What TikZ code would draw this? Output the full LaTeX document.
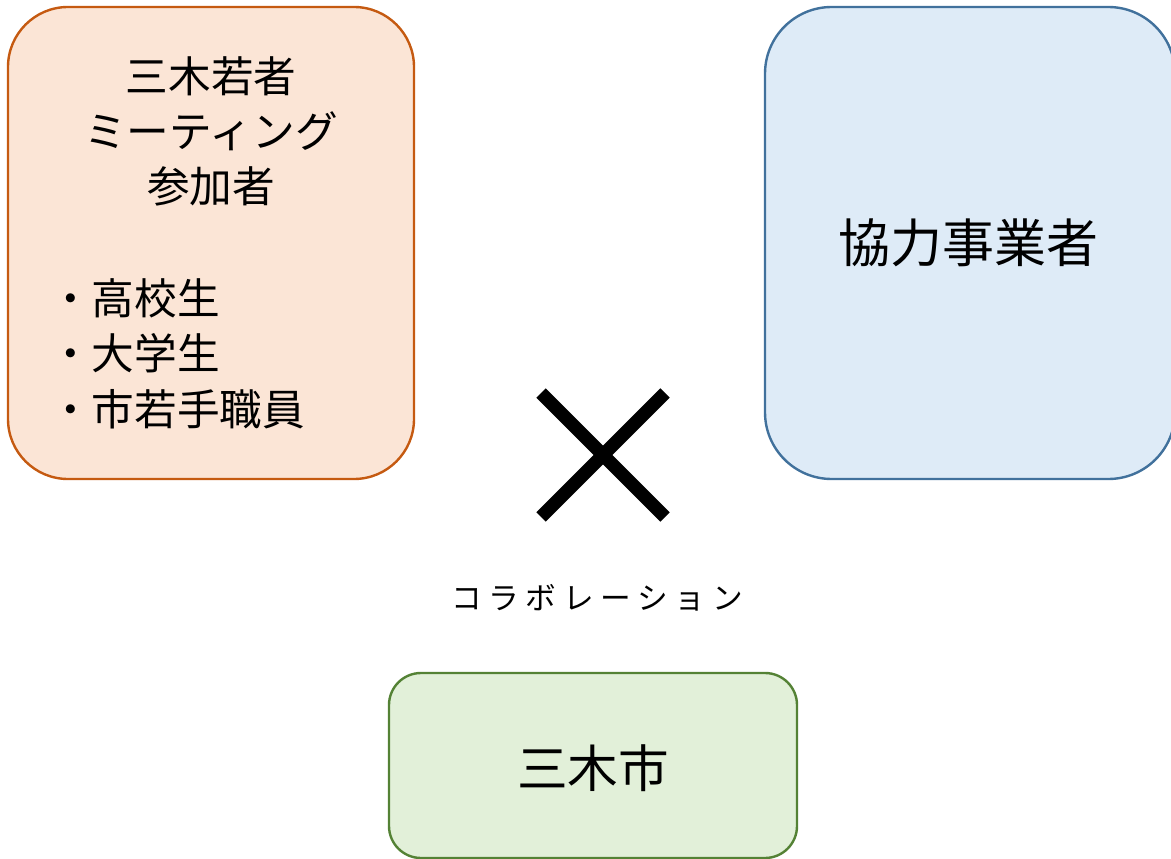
\documentclass[tikz,border=0pt]{standalone}
\usepackage{fontspec}
\setmainfont{Noto Sans CJK JP}
\definecolor{orangeline}{HTML}{C55A11}
\definecolor{orangefill}{HTML}{FBE5D6}
\definecolor{blueline}{HTML}{41719C}
\definecolor{bluefill}{HTML}{DEEBF7}
\definecolor{greenline}{HTML}{548235}
\definecolor{greenfill}{HTML}{E2F0D9}
\tikzset{
  groupbox/.style={draw,line width=1.8pt,rectangle,inner sep=0pt},
  label text/.style={inner sep=0pt,font=\fontsize{32}{38}\selectfont}
}

\begin{document}
\begin{tikzpicture}[x=0.75pt,y=-0.75pt]
    \useasboundingbox (0,0) rectangle (1171,859);
    % the three groups
    \node[groupbox,draw=orangeline,fill=orangefill,rounded corners=45pt,
      minimum width=304.5pt,minimum height=354pt] (wakamono) at (211,243) {};
    \node[groupbox,draw=blueline,fill=bluefill,rounded corners=50pt,
      minimum width=307.5pt,minimum height=354pt] (jigyosha) at (970,243) {};
    \node[groupbox,draw=greenline,fill=greenfill,rounded corners=24pt,
      minimum width=306pt,minimum height=138.75pt] (shi) at (593,765.5) {};
    % texts
    \node[label text] (title1) at (211,76) {三木若者};
    \node[label text] (title2) at (211,131) {ミーティング};
    \node[label text] (title3) at (211,186) {参加者};
    \node[label text,anchor=west] (item1) at (49,298) {・高校生};
    \node[label text,anchor=west] (item2) at (49,353) {・大学生};
    \node[label text,anchor=west] (item3) at (49,409) {・市若手職員};
    \node[inner sep=0pt,font=\fontsize{39}{45}\selectfont] (jigyoshatext) at (968,243) {協力事業者};
    \node[inner sep=0pt,font=\fontsize{38}{44}\selectfont] (shitext) at (593,768) {三木市};
    \node[inner sep=0pt,font=\fontsize{23}{28}\selectfont\addfontfeature{LetterSpace=22}] (collab) at (597,598) {コラボレーション};
    % the cross
    \coordinate (xa) at (541,393);
    \coordinate (xb) at (665,517);
    \coordinate (xc) at (541,517);
    \coordinate (xd) at (665,393);
    \draw[line width=10pt] (xa) -- (xb);
    \draw[line width=10pt] (xc) -- (xd);
\end{tikzpicture}
\end{document}
